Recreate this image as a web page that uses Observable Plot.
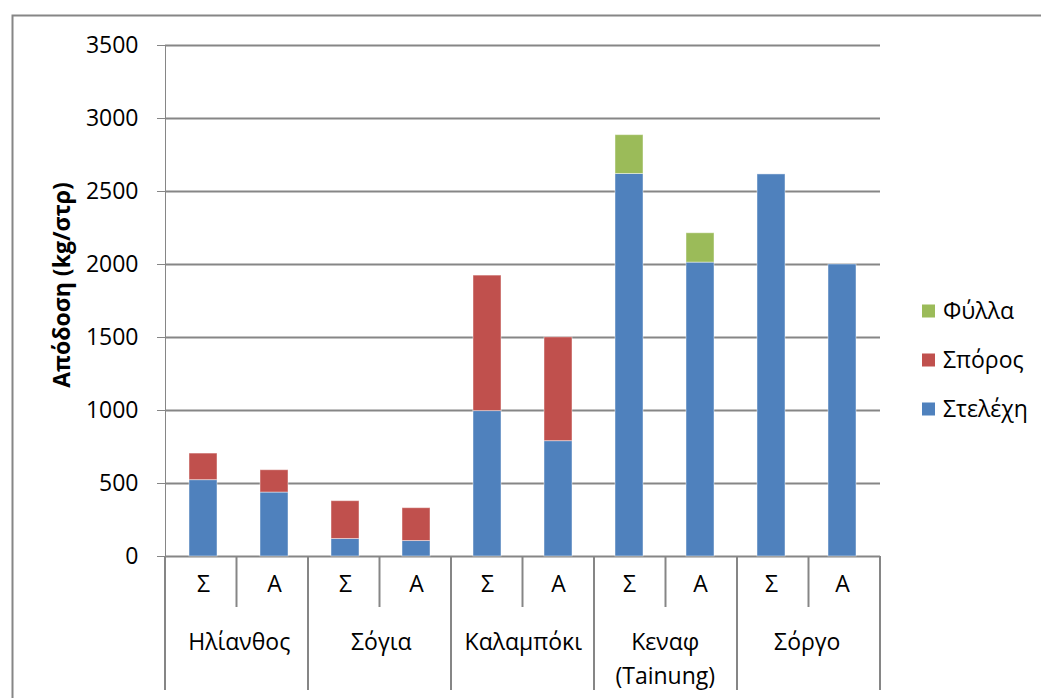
<!DOCTYPE html>
<html>
<head>
<meta charset="utf-8">
<script src="https://cdn.jsdelivr.net/npm/d3@7"></script>
<script src="https://cdn.jsdelivr.net/npm/@observablehq/plot@0.6"></script>
<style>
  html, body { margin: 0; padding: 0; background: #fff; }
  #chart svg text { fill: #000; }
</style>
</head>
<body>
<div id="chart"></div>
<script>
// ---- data ----
const groups = ["Ηλίανθος", "Σόγια", "Καλαμπόκι", "Κεναφ\n(Tainung)", "Σόργο"];
const subs = ["Σ", "Α"];
const seriesNames = ["Στελέχη", "Σπόρος", "Φύλλα"];
const seriesColors = ["#4F81BD", "#C0504D", "#9BBB59"];
// values per bar in order: group0-Σ, group0-Α, group1-Σ, ...
const stems  = [523, 438, 120, 106, 996, 790, 2620, 2013, 2617, 2000];
const seeds  = [182, 153, 259, 225, 928, 711, 0, 0, 0, 0];
const leaves = [0, 0, 0, 0, 0, 0, 266, 201, 0, 0];
const yTicks = [0, 500, 1000, 1500, 2000, 2500, 3000, 3500];
const yTitle = "Απόδοση (kg/στρ)";

// ---- build table ----
const keys = [];
groups.forEach((g, gi) => subs.forEach((s, si) => keys.push(gi + "|" + si)));
const seriesValues = [stems, seeds, leaves];
const data = [];
seriesNames.forEach((name, si) => {
  seriesValues[si].forEach((v, i) => {
    if (v > 0) data.push({key: keys[i], series: name, value: v});
  });
});

const W = 1041, H = 698;
const mL = 165, mR = 161, mT = 45, mB = 142;
const step = (W - mL - mR) / keys.length;
const grid = "#868686";
const font = "'Open Sans', 'Noto Sans', sans-serif";
const fs = 23;

const plot = Plot.plot({
  width: W, height: H,
  marginLeft: mL, marginRight: mR, marginTop: mT, marginBottom: mB,
  style: {fontFamily: font, fontSize: fs + "px", color: grid, background: "#fff", overflow: "visible"},
  x: {domain: keys, paddingInner: 0.6, paddingOuter: 0.3, axis: null},
  y: {domain: [0, 3500], ticks: yTicks, tickSize: 8, tickPadding: 19, tickFormat: d => String(d), label: null, line: true},
  color: {domain: seriesNames, range: seriesColors},
  marks: [
    Plot.ruleY(yTicks, {stroke: grid, strokeWidth: 2}),
    Plot.barY(data, {x: "key", y: "value", fill: "series", stroke: "#ffffff", strokeOpacity: 0.45, strokeWidth: 1}),
    Plot.text(keys, {x: d => d, text: d => subs[+d.split("|")[1]], frameAnchor: "bottom", dy: 35, fill: "#000", fontSize: fs}),
    Plot.text(keys.filter(k => k.endsWith("|0")), {
      x: d => d, dx: step / 2, text: d => groups[+d.split("|")[0]],
      frameAnchor: "bottom", lineAnchor: "top", dy: 70, lineHeight: 1.45, fill: "#000", fontSize: fs
    })
  ]
});

document.getElementById("chart").appendChild(plot);

// ---- decorations: category separators, legend, title, border ----
const svg = d3.select(plot);
const xs = plot.scale("x");
const band = d3.scaleBand(xs.domain, xs.range)
  .paddingInner(xs.paddingInner ?? 0.6).paddingOuter(xs.paddingOuter ?? 0.3).align(xs.align ?? 0.5);
const st = band.step();
const gap = (st - band.bandwidth()) / 2;
const y0 = H - mB;
const sep = svg.append("g").attr("stroke", grid).attr("stroke-width", 2);
keys.forEach((k, i) => {
  const xl = band(k) - gap;
  const isGroupStart = k.endsWith("|0");
  sep.append("line").attr("x1", xl).attr("x2", xl).attr("y1", y0).attr("y2", isGroupStart ? 690 : 607);
});
const xr = band(keys[keys.length - 1]) + band.bandwidth() + gap;
sep.append("line").attr("x1", xr).attr("x2", xr).attr("y1", y0).attr("y2", 690);

// legend (top to bottom: reverse stack order)
const colorScale = plot.scale("color");
const cmap = new Map(colorScale.domain.map((d, i) => [d, colorScale.range[i]]));
const leg = svg.append("g").attr("text-anchor", "start");
[...seriesNames].reverse().forEach((name, i) => {
  const cy = 311 + i * 49;
  leg.append("rect").attr("x", 922).attr("y", cy - 6.5).attr("width", 13).attr("height", 13).attr("fill", cmap.get(name));
  leg.append("text").attr("x", 943).attr("y", cy).attr("dy", "0.35em").attr("text-anchor", "start")
    .attr("font-size", fs).attr("font-family", font).text(name);
});

// y title
svg.append("text")
  .attr("transform", `translate(70,285) rotate(-90)`)
  .attr("text-anchor", "middle").attr("font-weight", "bold")
  .attr("font-size", 23).attr("font-family", font).text(yTitle);

// outer border
svg.append("rect").attr("x", 12.5).attr("y", 15.5).attr("width", 1100).attr("height", 800)
  .attr("fill", "none").attr("stroke", grid).attr("stroke-width", 2);
</script>
</body>
</html>
